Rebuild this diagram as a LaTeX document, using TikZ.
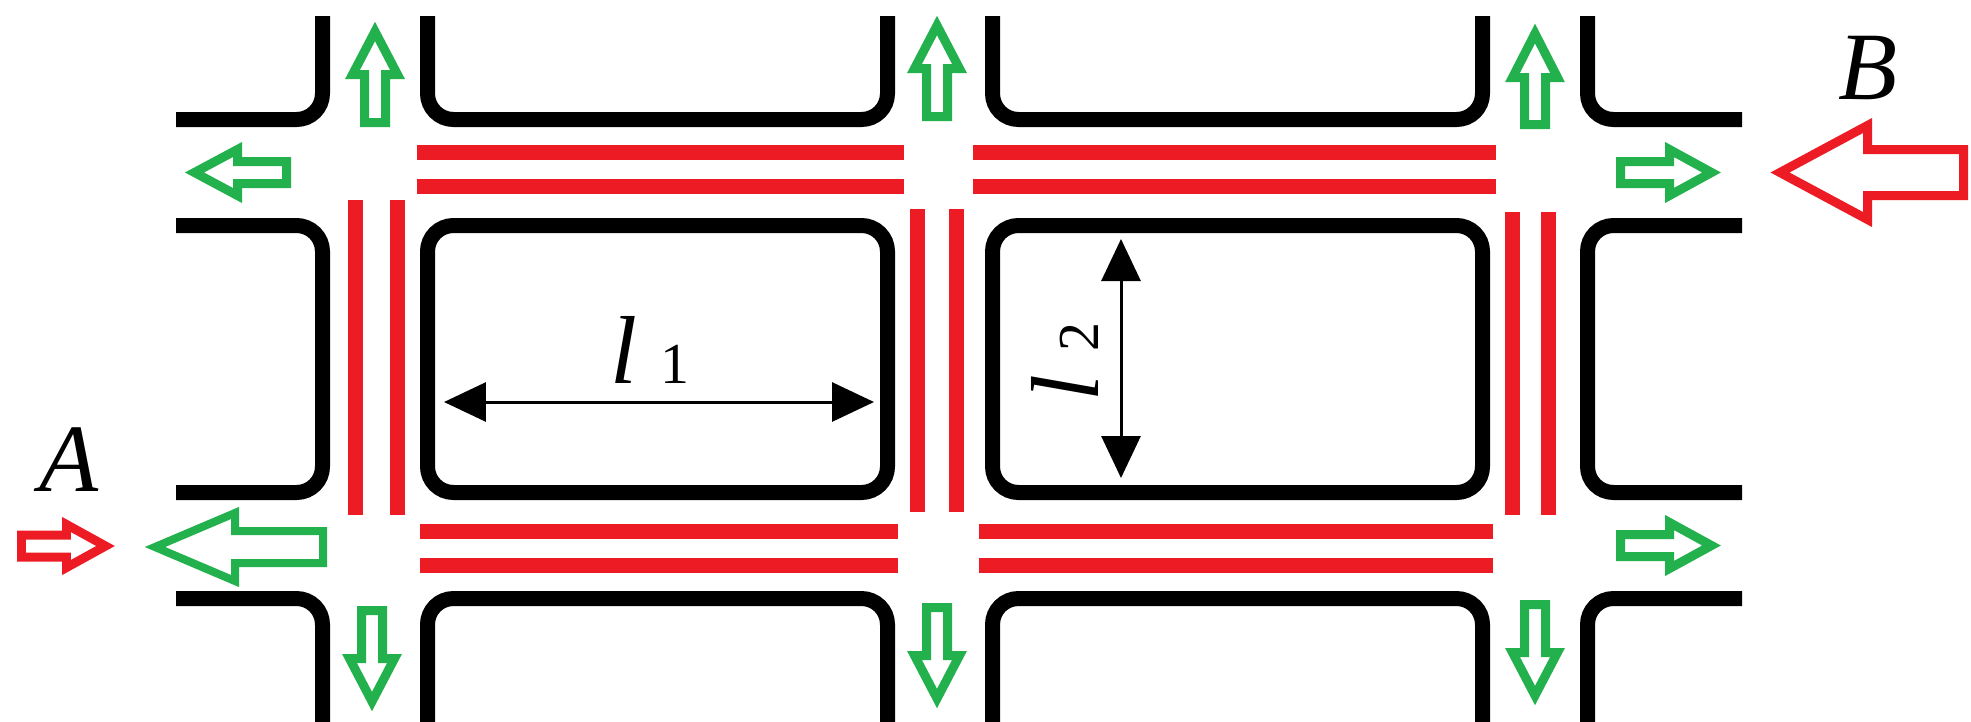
\documentclass[tikz,border=0pt]{standalone}
\usepackage{fontspec}
\setmainfont{Liberation Serif}
\usetikzlibrary{arrows.meta}
\definecolor{pgreen}{HTML}{22B14C}
\definecolor{pred}{HTML}{ED1C24}
% #1 style, #2 x, #3 y (tail), #4 angle, #5 tip length, #6 head base, #7 head half width, #8 shaft half width
\newcommand\blockarrow[8]{%
  \begin{scope}[shift={(#2,#3)},rotate=#4]
    \draw[#1] (0,-#8) -- (#6,-#8) -- (#6,-#7) -- (#5,0) -- (#6,#7) -- (#6,#8) -- (0,#8) -- cycle;
  \end{scope}}
\tikzset{
  road/.style={line width=0.3cm, rounded corners=0.52cm},
  lane/.style={draw=pred, line width=0.3cm},
  garr/.style={draw=pgreen, line width=0.18cm},
  garrb/.style={draw=pgreen, line width=0.16cm},
  rarr/.style={draw=pred, line width=0.18cm},
  dimline/.style={line width=0.06cm, {Triangle[length=0.84cm,width=0.78cm]}-{Triangle[length=0.84cm,width=0.78cm]}},
  lbl/.style={font=\fontsize{55}{60}\selectfont\itshape, inner sep=0},
  sublbl/.style={font=\fontsize{33}{36}\selectfont, inner sep=0}
}
\begin{document}
\begin{tikzpicture}[x=0.02cm,y=-0.02cm]
\useasboundingbox (0,0) rectangle (1971,721);
% --- road edges (black) ---
% top row
\draw[road] (176,119.5) -- (322.5,119.5) -- (322.5,16);
\draw[road] (427.5,16) -- (427.5,119.5) -- (887.5,119.5) -- (887.5,16);
\draw[road] (992.5,16) -- (992.5,119.5) -- (1482.5,119.5) -- (1482.5,16);
\draw[road] (1587.5,16) -- (1587.5,119.5) -- (1742,119.5);
% middle row
\draw[road] (176,225.5) -- (322.5,225.5) -- (322.5,492.5) -- (176,492.5);
\draw[road] (427.5,225.5) rectangle (887.5,492.5);
\draw[road] (992.5,225.5) rectangle (1482.5,492.5);
\draw[road] (1742,225.5) -- (1587.5,225.5) -- (1587.5,492.5) -- (1742,492.5);
% bottom row
\draw[road] (176,598.5) -- (322.5,598.5) -- (322.5,730);
\draw[road] (427.5,730) -- (427.5,598.5) -- (887.5,598.5) -- (887.5,730);
\draw[road] (992.5,730) -- (992.5,598.5) -- (1482.5,598.5) -- (1482.5,730);
\draw[road] (1587.5,730) -- (1587.5,598.5) -- (1742,598.5);
% --- red double lines ---
\draw[lane] (417,152.5) -- (904,152.5);
\draw[lane] (417,186.5) -- (904,186.5);
\draw[lane] (973,152.5) -- (1496,152.5);
\draw[lane] (973,186.5) -- (1496,186.5);
\draw[lane] (420,531.5) -- (898,531.5);
\draw[lane] (420,565.5) -- (898,565.5);
\draw[lane] (979,531.5) -- (1493,531.5);
\draw[lane] (979,565.5) -- (1493,565.5);
\draw[lane] (355.5,200) -- (355.5,515);
\draw[lane] (397.5,200) -- (397.5,515);
\draw[lane] (917.5,209) -- (917.5,512);
\draw[lane] (956.5,209) -- (956.5,512);
\draw[lane] (1512.5,212) -- (1512.5,515);
\draw[lane] (1548.5,212) -- (1548.5,515);
% --- green arrows ---
\blockarrow{garr}{375}{122.5}{90}{91}{48}{22.5}{10.5}
\blockarrow{garr}{937}{116.5}{90}{91}{48}{22.5}{10.5}
\blockarrow{garr}{1535}{124.5}{90}{91}{47}{22.5}{10.5}
\blockarrow{garr}{372}{610.5}{-90}{91}{48}{22.5}{10.5}
\blockarrow{garr}{937}{607.5}{-90}{91}{48}{22.5}{10.5}
\blockarrow{garr}{1535}{604.5}{-90}{91}{48}{22.5}{10.5}
\blockarrow{garr}{286.5}{172.5}{180}{92}{49}{23}{11}
\blockarrow{garr}{1620.5}{172.5}{0}{91}{49}{23}{11}
\blockarrow{garr}{1620.5}{545.5}{0}{91}{49}{23}{11}
\blockarrow{garrb}{323}{547}{180}{168}{88}{34}{16}
% --- red arrows ---
\blockarrow{rarr}{21.5}{546}{0}{84}{45}{21.5}{11}
\blockarrow{rarr}{1963.5}{172.5}{180}{183.5}{96}{47}{23}
% --- dimensions ---
\coordinate (d1a) at (444,402);
\coordinate (d1b) at (874,402);
\coordinate (d2a) at (1121,239);
\coordinate (d2b) at (1121,478);
\draw[dimline] (d1a) -- (d1b);
\draw[dimline] (d2a) -- (d2b);
\node[lbl, anchor=base] (l1) at (624,383) {l};
\node[sublbl, anchor=base] (s1) at (674.5,383) {1};
\node[lbl, anchor=base, rotate=90] (l2) at (1098,388.5) {l};
\node[sublbl, anchor=base, rotate=90] (s2) at (1098,336.5) {2};
% --- point labels ---
\node[lbl, anchor=base] (A) at (69,491) {A};
\node[lbl, anchor=base] (B) at (1868,99) {B};
\end{tikzpicture}
\end{document}
